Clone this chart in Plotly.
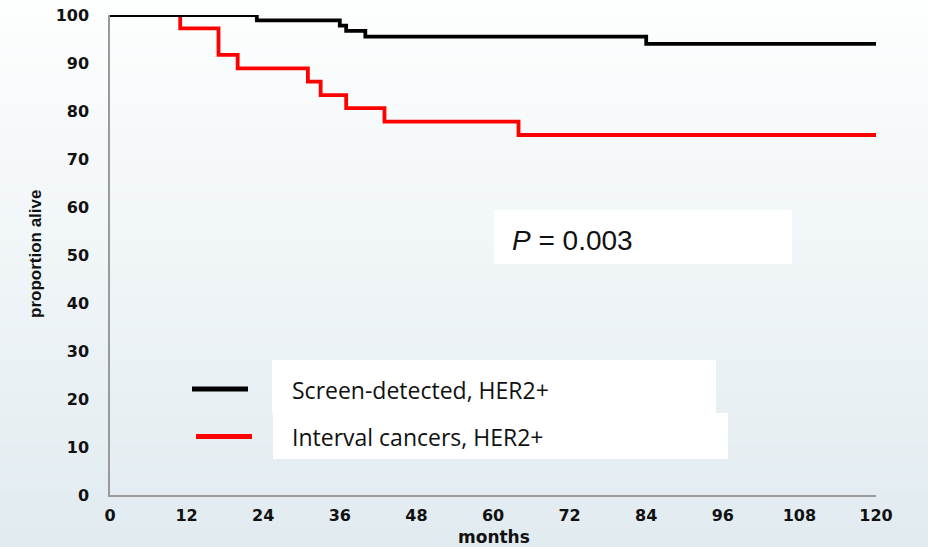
import plotly.graph_objects as go

# Kaplan-Meier step data (months, percent alive)
screen_months = [0, 23, 36, 37, 40, 84, 120]
screen_alive = [100, 98.9, 97.8, 96.7, 95.5, 94.0, 94.0]

interval_months = [0, 11, 17, 20, 31, 33, 37, 43, 64, 120]
interval_alive = [100, 97.2, 91.7, 88.9, 86.1, 83.3, 80.6, 77.8, 75.0, 75.0]

series_names = ["Screen-detected, HER2+", "Interval cancers, HER2+"]
series_colors = ["#000000", "#ff0000"]

x_ticks = [0, 12, 24, 36, 48, 60, 72, 84, 96, 108, 120]
y_ticks = [0, 10, 20, 30, 40, 50, 60, 70, 80, 90, 100]
p_label = "<i>P</i> = 0.003"

W, H = 928, 547
L, R, T, B = 110, 52, 15, 52
pw, ph = W - L - R, H - T - B


def px(x):
    return (x - L) / pw


def py(y):
    return (H - B - y) / ph


fig = go.Figure()
fig.add_trace(go.Scatter(x=interval_months, y=interval_alive, mode="lines",
                         line=dict(shape="hv", color=series_colors[1], width=3.8),
                         name=series_names[1], hoverinfo="skip"))
fig.add_trace(go.Scatter(x=screen_months, y=screen_alive, mode="lines",
                         line=dict(shape="hv", color=series_colors[0], width=3.8),
                         name=series_names[0], hoverinfo="skip"))

shapes = []
# vertical background gradient made of thin strips
n = 80
top_rgb = (253, 254, 254)
bot_rgb = (225, 235, 240)
for i in range(n):
    f = i / (n - 1)
    c = tuple(round(top_rgb[k] + (bot_rgb[k] - top_rgb[k]) * f) for k in range(3))
    y0 = H * i / n
    y1 = H * (i + 1) / n + 1
    shapes.append(dict(type="rect", xref="paper", yref="paper", layer="below",
                       x0=px(0), x1=px(W), y0=py(y1), y1=py(y0),
                       fillcolor="rgb(%d,%d,%d)" % c, line=dict(width=0)))

# white boxes behind the P-value and the key
for (x0, x1, y0, y1) in [(494, 792, 210, 264), (272, 716, 360, 413), (273, 728, 413, 459)]:
    shapes.append(dict(type="rect", xref="paper", yref="paper", layer="below",
                       x0=px(x0), x1=px(x1), y0=py(y1), y1=py(y0),
                       fillcolor="white", line=dict(width=0)))

# key line samples
for (x0, x1, y, col) in [(192, 248, 389, series_colors[0]), (196, 252, 436.5, series_colors[1])]:
    shapes.append(dict(type="line", xref="paper", yref="paper",
                       x0=px(x0), x1=px(x1), y0=py(y), y1=py(y),
                       line=dict(color=col, width=5)))

annotations = [
    dict(text=series_names[0], x=px(290), y=py(390), xref="paper", yref="paper",
         xanchor="left", yanchor="middle", showarrow=False,
         font=dict(family="Open Sans", size=23, color="#111")),
    dict(text=series_names[1], x=px(290), y=py(437), xref="paper", yref="paper",
         xanchor="left", yanchor="middle", showarrow=False,
         font=dict(family="Open Sans", size=23, color="#111")),
    dict(text=p_label, x=px(510), y=py(240), xref="paper", yref="paper",
         xanchor="left", yanchor="middle", showarrow=False,
         font=dict(family="Liberation Sans", size=28, color="#111")),
    dict(text="<b>proportion alive</b>", x=px(35), y=py(254), xref="paper", yref="paper",
         xanchor="center", yanchor="middle", showarrow=False, textangle=-90,
         font=dict(family="Liberation Sans", size=17, color="#111")),
    dict(text="<b>months</b>", x=px(494), y=py(537), xref="paper", yref="paper",
         xanchor="center", yanchor="middle", showarrow=False,
         font=dict(family="DejaVu Sans", size=17, color="#111")),
]

tick_font = dict(family="DejaVu Sans", size=16, color="#111", weight="bold")

fig.update_layout(
    width=W, height=H,
    margin=dict(l=L, r=R, t=T, b=B, pad=0, autoexpand=False),
    paper_bgcolor="rgba(0,0,0,0)", plot_bgcolor="rgba(0,0,0,0)",
    showlegend=False,
    shapes=shapes, annotations=annotations,
    xaxis=dict(range=[0, 120], tickvals=x_ticks, ticktext=[str(v) for v in x_ticks],
               showgrid=False, zeroline=False, showline=True, linecolor="#9a9a9a",
               linewidth=1.5, ticks="", ticklabelstandoff=5, automargin=False,
               tickfont=tick_font),
    yaxis=dict(range=[0, 100], tickvals=y_ticks, ticktext=[str(v) for v in y_ticks],
               showgrid=False, zeroline=False, showline=True, linecolor="#9a9a9a",
               linewidth=1.5, ticks="", ticklabelstandoff=16, automargin=False,
               tickfont=tick_font),
)

fig.write_html("out.html")
